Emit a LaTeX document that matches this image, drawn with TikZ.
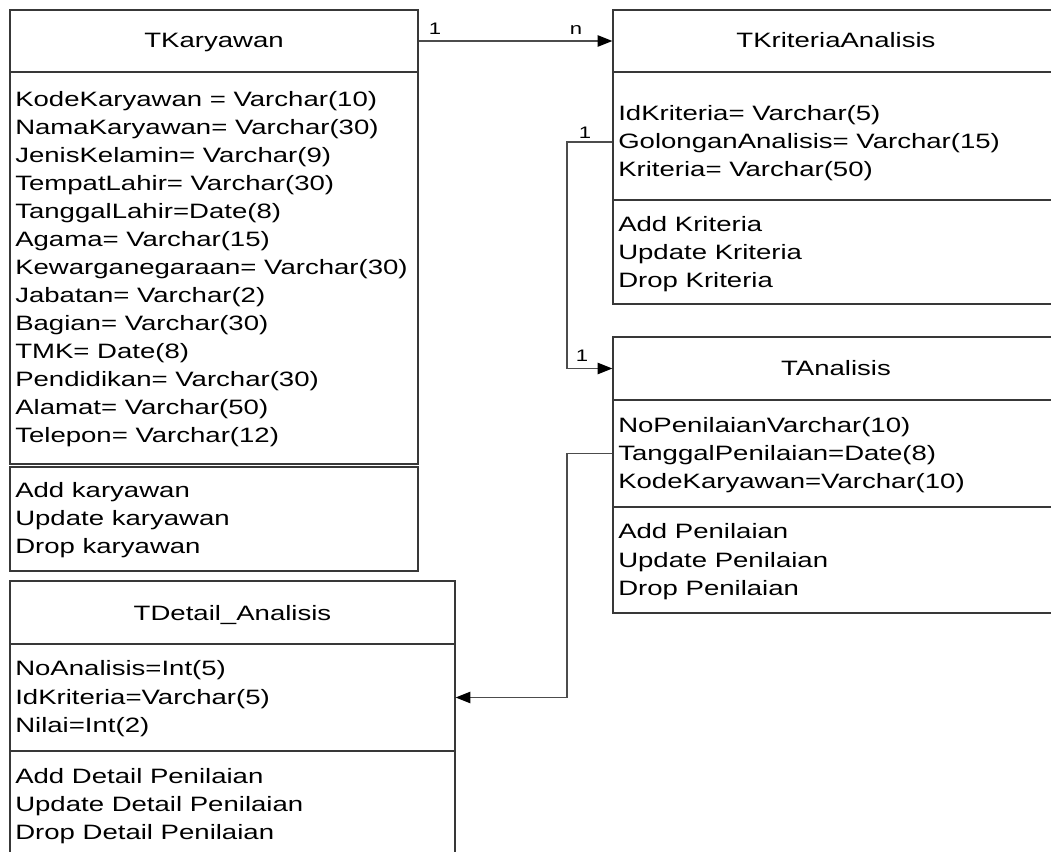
\documentclass[tikz,border=0pt]{standalone}
\usepackage{fontspec}
\setmainfont{Liberation Sans}[FakeStretch=1.325]
\usetikzlibrary{arrows.meta,fit}
\begin{document}
\begin{tikzpicture}[x=0.75pt,y=-0.75pt,
  box/.style={draw=black!78, line width=0.9pt, inner sep=0pt},
  conn/.style={draw=black!70, line width=0.9pt},
  tip/.style={-{Triangle[length=11pt,width=8.5pt,color=black]}},
  row/.style={anchor=base west, inner sep=0pt, font=\fontsize{15.6pt}{21pt}\selectfont},
  ttl/.style={anchor=base, inner sep=0pt, font=\fontsize{15.6pt}{21pt}\selectfont},
  card/.style={anchor=base, inner sep=0pt, font=\fontsize{12.5pt}{14pt}\selectfont}]
\useasboundingbox (0,0) rectangle (1051,852);
\clip (0,0) rectangle (1051,852);

% ---------- TKaryawan ----------
\node[box, fit={(10,10) (418,72)}]   (karT) {};
\node[box, fit={(10,72) (418,464)}]  (karA) {};
\node[box, fit={(10,467) (418,571)}] (karM) {};
\node[ttl] (karName) at (214,47.5) {TKaryawan};
\foreach \t [count=\i] in {KodeKaryawan = Varchar(10), NamaKaryawan= Varchar(30),
    JenisKelamin= Varchar(9), TempatLahir= Varchar(30), TanggalLahir=Date(8),
    Agama= Varchar(15), Kewarganegaraan= Varchar(30), Jabatan= Varchar(2),
    Bagian= Varchar(30), TMK= Date(8), Pendidikan= Varchar(30),
    Alamat= Varchar(50), Telepon= Varchar(12)}
  \node[row] (karA\i) at (15,{106.5+28*(\i-1)}) {\t};
\foreach \t [count=\i] in {Add karyawan, Update karyawan, Drop karyawan}
  \node[row] (karM\i) at (15,{498+28*(\i-1)}) {\t};

% ---------- TKriteriaAnalisis ----------
\node[box, fit={(613,10) (1059,72)}]   (kriT) {};
\node[box, fit={(613,72) (1059,200)}]  (kriA) {};
\node[box, fit={(613,200) (1059,304)}] (kriM) {};
\node[ttl] (kriName) at (836,48) {TKriteriaAnalisis};
\foreach \t [count=\i] in {IdKriteria= Varchar(5), GolonganAnalisis= Varchar(15),
    Kriteria= Varchar(50)}
  \node[row] (kriA\i) at (618,{121+28*(\i-1)}) {\t};
\foreach \t [count=\i] in {Add Kriteria, Update Kriteria, Drop Kriteria}
  \node[row] (kriM\i) at (618,{231.5+28*(\i-1)}) {\t};

% ---------- TAnalisis ----------
\node[box, fit={(613,337) (1059,400)}] (anaT) {};
\node[box, fit={(613,400) (1059,507)}] (anaA) {};
\node[box, fit={(613,507) (1059,613)}] (anaM) {};
\node[ttl] (anaName) at (836,376) {TAnalisis};
\foreach \t [count=\i] in {NoPenilaianVarchar(10), TanggalPenilaian=Date(8),
    KodeKaryawan=Varchar(10)}
  \node[row] (anaA\i) at (618,{432.5+28*(\i-1)}) {\t};
\foreach \t [count=\i] in {Add Penilaian, Update Penilaian, Drop Penilaian}
  \node[row] (anaM\i) at (618,{539+28*(\i-1)}) {\t};

% ---------- TDetail_Analisis ----------
\node[box, fit={(10,581) (455,644)}] (detT) {};
\node[box, fit={(10,644) (455,751)}] (detA) {};
\node[box, fit={(10,751) (455,880)}] (detM) {};
\node[ttl] (detName) at (232.5,620) {TDetail\_Analisis};
\foreach \t [count=\i] in {NoAnalisis=Int(5), IdKriteria=Varchar(5), Nilai=Int(2)}
  \node[row] (detA\i) at (15,{676+28*(\i-1)}) {\t};
\foreach \t [count=\i] in {Add Detail Penilaian, Update Detail Penilaian,
    Drop Detail Penilaian}
  \node[row] (detM\i) at (15,{783+28*(\i-1)}) {\t};

% ---------- relations ----------
\coordinate (bend) at (567,142);
\draw[conn, tip] (karT.east) -- (kriT.west);
\node[card] (c1) at (435,35) {1};
\node[card] (c2) at (576,35) {n};

\draw[conn, tip] (bend -| kriA.west) -- (bend) -- (bend |- anaT.west) -- (anaT.west);
\node[card] (c3) at (585,139) {1};
\node[card] (c4) at (582,362) {1};

\draw[conn, tip] (anaA.west) -- (anaA.west -| bend) -- (bend |- detA.east) -- (detA.east);
\end{tikzpicture}
\end{document}
